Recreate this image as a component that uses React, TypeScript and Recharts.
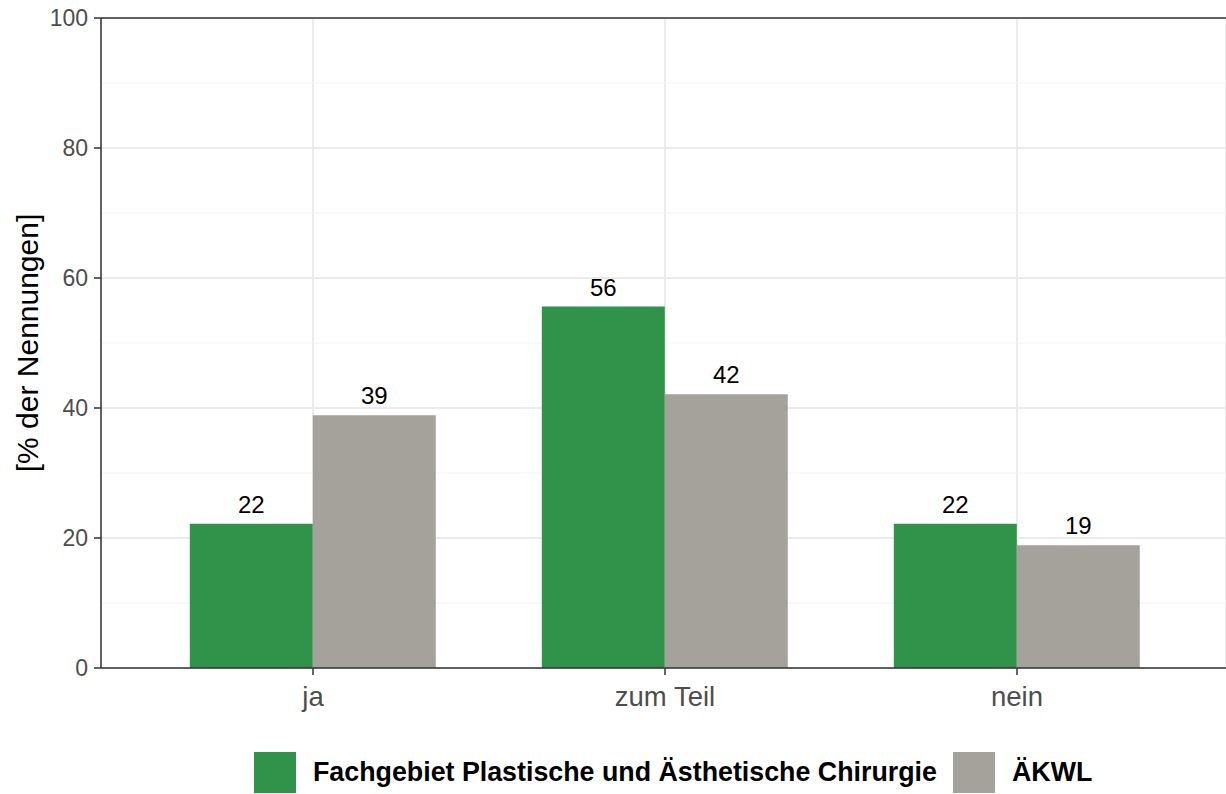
import React from "react";
import {
  BarChart,
  Bar,
  XAxis,
  YAxis,
  CartesianGrid,
  ReferenceLine,
  LabelList,
} from "recharts";

const categories = ["ja", "zum Teil", "nein"];
const fachgebiet = [22.2, 55.6, 22.2];
const aekwl = [38.9, 42.1, 18.9];
const yTicks = [0, 20, 40, 60, 80, 100];
const minorTicks = [10, 30, 50, 70, 90];

const GREEN = "#31934a";
const GREY = "#a5a29b";
const FONT = "'Liberation Sans', Arial, sans-serif";

const data = categories.map((name, i) => ({
  name,
  fachgebiet: fachgebiet[i],
  aekwl: aekwl[i],
}));

const legendItems = [
  { label: "Fachgebiet Plastische und Ästhetische Chirurgie", color: GREEN },
  { label: "ÄKWL", color: GREY },
];

export default function App() {
  return (
    <div
      style={{
        position: "absolute",
        left: 0,
        top: 0,
        width: 1226,
        height: 794,
        background: "#fff",
        fontFamily: FONT,
        overflow: "hidden",
      }}
    >
      <BarChart
        width={1226}
        height={794}
        data={data}
        margin={{ top: 18, right: 0, bottom: 86, left: 0 }}
        barCategoryGap="15%"
        barGap={0}
      >
        <CartesianGrid stroke="#ebebeb" strokeWidth={2} />
        {/* minor grid, kept under the bars */}
        {minorTicks.map((v) => (
          <ReferenceLine
            key={v}
            y={v}
            stroke="#f2f2f2"
            strokeWidth={1}
            zIndex={-50}
          />
        ))}
        <XAxis
          dataKey="name"
          height={40}
          padding={{ left: 36, right: 33 }}
          stroke="#333"
          strokeWidth={1.5}
          tickSize={7}
          tickMargin={11}
          tick={{ fill: "#4d4d4d", fontSize: 27.5, fontFamily: FONT }}
        />
        <YAxis
          width={101}
          domain={[0, 100]}
          ticks={yTicks}
          stroke="#333"
          strokeWidth={1.5}
          tickSize={7}
          tickMargin={6}
          tick={{ fill: "#4d4d4d", fontSize: 23, fontFamily: FONT }}
        />
        <ReferenceLine y={100} stroke="#333" strokeWidth={1.5} />
        <Bar dataKey="fachgebiet" fill={GREEN} isAnimationActive={false}>
          <LabelList
            dataKey="fachgebiet"
            position="top"
            offset={11}
            formatter={(v: any) => Math.round(Number(v))}
            style={{ fill: "#000", fontSize: 24, fontFamily: FONT }}
          />
        </Bar>
        <Bar dataKey="aekwl" fill={GREY} isAnimationActive={false}>
          <LabelList
            dataKey="aekwl"
            position="top"
            offset={11}
            formatter={(v: any) => Math.round(Number(v))}
            style={{ fill: "#000", fontSize: 24, fontFamily: FONT }}
          />
        </Bar>
      </BarChart>

      <div
        style={{
          position: "absolute",
          left: 28,
          top: 343,
          transform: "translate(-50%, -50%) rotate(-90deg)",
          fontSize: 30,
          color: "#000",
          whiteSpace: "nowrap",
        }}
      >
        [% der Nennungen]
      </div>

      <div
        style={{
          position: "absolute",
          left: 254,
          top: 752,
          display: "flex",
          alignItems: "center",
          height: 41,
        }}
      >
        {legendItems.map((item, i) => (
          <div
            key={item.label}
            style={{
              display: "flex",
              alignItems: "center",
              marginLeft: i === 0 ? 0 : 16,
            }}
          >
            <div
              style={{ width: 42, height: 41, background: item.color }}
            />
            <span
              style={{
                marginLeft: 17,
                fontSize: 26.8,
                fontWeight: "bold",
                color: "#000",
                whiteSpace: "nowrap",
              }}
            >
              {item.label}
            </span>
          </div>
        ))}
      </div>
    </div>
  );
}
